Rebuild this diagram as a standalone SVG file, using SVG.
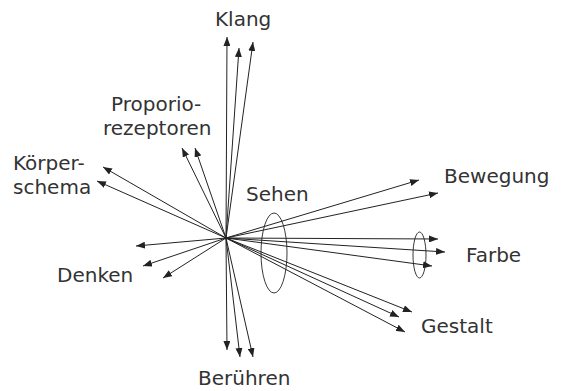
<svg xmlns="http://www.w3.org/2000/svg" width="561" height="391" viewBox="0 0 561 391">
<style>
text{font-family:"DejaVu Sans","Open Sans",sans-serif;font-size:20px;fill:#333}
.c line{stroke:#222;stroke-width:1;marker-end:url(#ah)}
.e{fill:none;stroke:#222;stroke-width:0.9}
</style>
<defs>
<marker id="ah" markerUnits="userSpaceOnUse" markerWidth="9" markerHeight="7" refX="9" refY="3.5" orient="auto">
<path d="M0,0 L9,3.5 L0,7 z" fill="#222"/>
</marker>
</defs>
<rect width="561" height="391" fill="#fff"/>
<g id="connectors" class="c">
<line x1="226" y1="238" x2="227" y2="37"/>
<line x1="226" y1="238" x2="239" y2="48"/>
<line x1="226" y1="238" x2="253" y2="42"/>
<line x1="226" y1="238" x2="182" y2="148"/>
<line x1="226" y1="238" x2="195" y2="148"/>
<line x1="226" y1="238" x2="103" y2="167"/>
<line x1="226" y1="238" x2="97" y2="181"/>
<line x1="226" y1="238" x2="419" y2="180"/>
<line x1="226" y1="238" x2="438" y2="193"/>
<line x1="226" y1="238" x2="438" y2="239"/>
<line x1="226" y1="238" x2="445" y2="252"/>
<line x1="226" y1="238" x2="432" y2="266"/>
<line x1="226" y1="238" x2="412" y2="312"/>
<line x1="226" y1="238" x2="399" y2="317"/>
<line x1="226" y1="238" x2="405" y2="332"/>
<line x1="226" y1="238" x2="136" y2="246"/>
<line x1="226" y1="238" x2="143" y2="266"/>
<line x1="226" y1="238" x2="163" y2="278"/>
<line x1="226" y1="238" x2="227" y2="350"/>
<line x1="226" y1="238" x2="240" y2="357"/>
<line x1="226" y1="238" x2="253" y2="357"/>
</g>
<g id="groupings">
<ellipse class="e" cx="274" cy="253" rx="13" ry="40"/>
<ellipse class="e" cx="419.5" cy="255" rx="6.5" ry="23"/>
</g>
<g id="klang"><text x="215" y="26">Klang</text></g>
<g id="proprio"><text x="111" y="111">Proporio-</text><text x="103" y="135">rezeptoren</text></g>
<g id="koerperschema"><text x="13" y="170">Körper-</text><text x="13" y="194">schema</text></g>
<g id="sehen"><text x="246" y="201">Sehen</text></g>
<g id="bewegung"><text x="444" y="183">Bewegung</text></g>
<g id="farbe"><text x="466" y="262">Farbe</text></g>
<g id="gestalt"><text x="421" y="333">Gestalt</text></g>
<g id="denken"><text x="57" y="282">Denken</text></g>
<g id="beruehren"><text x="198" y="385">Berühren</text></g>
</svg>
